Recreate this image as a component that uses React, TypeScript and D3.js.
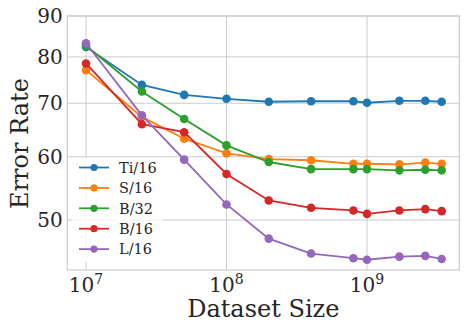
import React, { useEffect, useRef } from 'react';
import * as d3 from 'd3';

// dataset sizes (x) and error rates per model (y)
const sizes = [1e7, 2.5e7, 5e7, 1e8, 2e8, 4e8, 8e8, 1e9, 1.7e9, 2.6e9, 3.4e9];
const ti16 = [82.3, 73.8, 71.7, 70.9, 70.3, 70.4, 70.4, 70.1, 70.5, 70.5, 70.3];
const s16 = [77.0, 67.3, 63.2, 60.6, 59.6, 59.4, 58.8, 58.8, 58.7, 59.0, 58.8];
const b32 = [82.6, 72.4, 66.9, 62.0, 59.1, 57.9, 57.9, 57.9, 57.7, 57.8, 57.7];
const b16 = [78.5, 65.9, 64.4, 57.1, 52.9, 51.8, 51.4, 50.9, 51.4, 51.6, 51.3];
const l16 = [83.2, 67.6, 59.5, 52.3, 47.4, 45.4, 44.8, 44.6, 45.0, 45.1, 44.7];
const seriesNames = ['Ti/16', 'S/16', 'B/32', 'B/16', 'L/16'];
const yTicks = [50, 60, 70, 80, 90];
const xTicks = [1e7, 1e8, 1e9];

const colors = ['#1f77b4', '#ff7f0e', '#2ca02c', '#d62728', '#9467bd'];

const App = () => {
    const ref = useRef<SVGSVGElement>(null);

    useEffect(() => {
        const width = 468;
        const height = 332;
        const m = { left: 67.3, right: 459.3, top: 16, bottom: 270 };
        const svg = d3.select(ref.current);
        svg.selectAll('*').remove();
        svg.attr('width', width).attr('height', height);

        const x = d3.scaleLog().domain([Math.pow(10, 6.867), Math.pow(10, 9.657)]).range([m.left, m.right]);
        const y = d3.scaleLog().domain([43.3, 90]).range([m.bottom, m.top]);

        const font = "'DejaVu Serif', serif";
        const grid = '#cccccc';

        // grid
        svg.append('g').selectAll('line.gy').data(yTicks).enter().append('line')
            .attr('x1', m.left).attr('x2', m.right)
            .attr('y1', d => y(d)).attr('y2', d => y(d))
            .attr('stroke', grid).attr('stroke-width', 1);
        svg.append('g').selectAll('line.gx').data(xTicks).enter().append('line')
            .attr('x1', d => x(d)).attr('x2', d => x(d))
            .attr('y1', m.top).attr('y2', m.bottom)
            .attr('stroke', grid).attr('stroke-width', 1);

        // frame
        svg.append('rect')
            .attr('x', m.left).attr('y', m.top)
            .attr('width', m.right - m.left).attr('height', m.bottom - m.top)
            .attr('fill', 'none').attr('stroke', grid).attr('stroke-width', 1.2);

        // y tick labels
        svg.append('g').selectAll('text').data(yTicks).enter().append('text')
            .attr('x', m.left - 4.5).attr('y', d => y(d))
            .attr('dy', '0.36em')
            .attr('text-anchor', 'end')
            .attr('font-family', font).attr('font-size', 20)
            .attr('fill', '#262626')
            .text(d => d);

        // x tick labels 10^n
        const xl = svg.append('g').selectAll('text').data(xTicks).enter().append('text')
            .attr('x', d => x(d)).attr('y', 292)
            .attr('text-anchor', 'middle')
            .attr('font-family', font).attr('font-size', 20)
            .attr('fill', '#262626');
        xl.append('tspan').text('10');
        xl.append('tspan').attr('font-size', 14).attr('dy', -8).text(d => Math.round(Math.log10(d)));

        // axis labels
        svg.append('text')
            .attr('x', (m.left + m.right) / 2).attr('y', 317)
            .attr('text-anchor', 'middle')
            .attr('font-family', font).attr('font-size', 24)
            .attr('fill', '#262626')
            .text('Dataset Size');
        svg.append('text')
            .attr('transform', 'translate(28,143.5) rotate(-90)')
            .attr('text-anchor', 'middle')
            .attr('font-family', font).attr('font-size', 24)
            .attr('fill', '#262626')
            .text('Error Rate');

        // series
        const all = [ti16, s16, b32, b16, l16];
        const line = d3.line<number>()
            .x((d, i) => x(sizes[i]))
            .y(d => y(d));
        all.forEach((vals, k) => {
            const g = svg.append('g');
            g.append('path')
                .attr('d', line(vals))
                .attr('fill', 'none')
                .attr('stroke', colors[k])
                .attr('stroke-width', 1.8);
            g.selectAll('circle').data(vals).enter().append('circle')
                .attr('cx', (d, i) => x(sizes[i]))
                .attr('cy', d => y(d))
                .attr('r', 4.3)
                .attr('fill', colors[k]);
        });

        // legend
        const lg = svg.append('g');
        lg.append('rect')
            .attr('x', 72).attr('y', 158)
            .attr('width', 90).attr('height', 104)
            .attr('rx', 3)
            .attr('fill', 'white').attr('fill-opacity', 0.8);
        seriesNames.forEach((name, k) => {
            const ly = 167.5 + k * 20.4;
            lg.append('line')
                .attr('x1', 79).attr('x2', 109)
                .attr('y1', ly).attr('y2', ly)
                .attr('stroke', colors[k]).attr('stroke-width', 1.8);
            lg.append('circle')
                .attr('cx', 94).attr('cy', ly).attr('r', 3.6)
                .attr('fill', colors[k]);
            lg.append('text')
                .attr('x', 119).attr('y', ly)
                .attr('dy', '0.36em')
                .attr('font-family', font).attr('font-size', 14.5)
                .attr('fill', '#262626')
                .text(name);
        });
    }, []);

    return (
        <svg ref={ref} style={{ position: 'absolute', left: 0, top: 0, background: 'white' }} />
    );
};

export default App;
